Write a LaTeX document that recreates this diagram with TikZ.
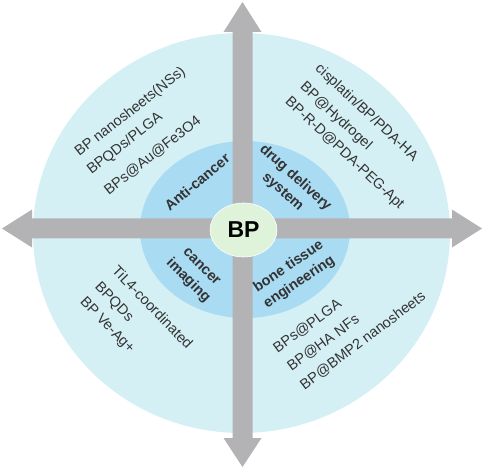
\documentclass[tikz,border=0pt]{standalone}
\usepackage{fontspec}
\setmainfont{Liberation Sans}
\usetikzlibrary{shapes.geometric}
\definecolor{outerblue}{HTML}{D5F0F5}
\definecolor{innerblue}{HTML}{A9DBF3}
\definecolor{bargray}{HTML}{B3B3B5}
\definecolor{paleg}{HTML}{DFF2DA}
\definecolor{txt}{HTML}{333333}
\tikzset{
  item/.style={anchor=west, inner sep=0pt, text=txt, font=\fontsize{14.5}{17}\selectfont},
  cat/.style={align=center, inner sep=0pt, text=txt, font=\fontsize{14.5}{19}\selectfont\bfseries},
  bar/.style={fill=bargray, draw=none}
}
\begin{document}
\begin{tikzpicture}[x=1pt,y=-1pt]
\useasboundingbox (0,0) rectangle (484,470);
% rings
\fill[outerblue] (241.5,233) ellipse [x radius=208.5pt, y radius=200pt];
\fill[innerblue] (245,229.5) ellipse [x radius=105pt, y radius=88.5pt];
% cross arrows
\coordinate (c) at (242.5,228.5);
\fill[bar] (232.5,32) -- (223.5,32) -- (242.5,2) -- (261.5,32) -- (252.5,32)
  -- (252.5,438) -- (261.5,438) -- (242.5,467) -- (223.5,438) -- (232.5,438) -- cycle;
\fill[bar] (32,218.5) -- (32,209.5) -- (2,228.5) -- (32,247.5) -- (32,238.5)
  -- (452,238.5) -- (452,247.5) -- (482,228.5) -- (452,209.5) -- (452,218.5) -- cycle;
% centre
\node[ellipse, fill=paleg, draw=white, line width=0.6pt, minimum width=67pt, minimum height=54pt,
  inner sep=0pt, font=\fontsize{23}{23}\selectfont\bfseries] (bp) at (243.5,230) {BP};
% categories
\node[cat, rotate=40] (anti) at (197,182) {Anti-cancer};
\node[cat, rotate=-42] (drug) at (289,185) {drug delivery\\system};
\node[cat, rotate=-45] (img) at (194,274.5) {cancer\\imaging};
\node[cat, rotate=34] (bone) at (294,274.5) {bone tissue\\engineering};
% top-left items
\node[item, rotate=38] (tl1) at (77,154) {BP nanosheets(NSs)};
\node[item, rotate=38] (tl2) at (89,172) {BPQDs/PLGA};
\node[item, rotate=38] (tl3) at (106,192) {BPs@Au@Fe3O4};
% top-right items
\node[item, rotate=-43] (tr1) at (317,67) {cisplatin/BP/PDA-HA};
\node[item, rotate=-43] (tr2) at (302,85) {BP@Hydrogel};
\node[item, rotate=-43] (tr3) at (287,100) {BP-R-D@PDA-PEG-Apt};
% bottom-left items
\node[item, rotate=-46] (bl1) at (115,268) {TiL4-coordinated};
\node[item, rotate=-46] (bl2) at (97,285) {BPQDs};
\node[item, rotate=-46] (bl3) at (82,300) {BP Ve-Ag+};
% bottom-right items
\node[item, rotate=36] (br1) at (275,350) {BPs@PLGA};
\node[item, rotate=36] (br2) at (289,368) {BP@HA NFs};
\node[item, rotate=37] (br3) at (302,387) {BP@BMP2 nanosheets};
\end{tikzpicture}
\end{document}
